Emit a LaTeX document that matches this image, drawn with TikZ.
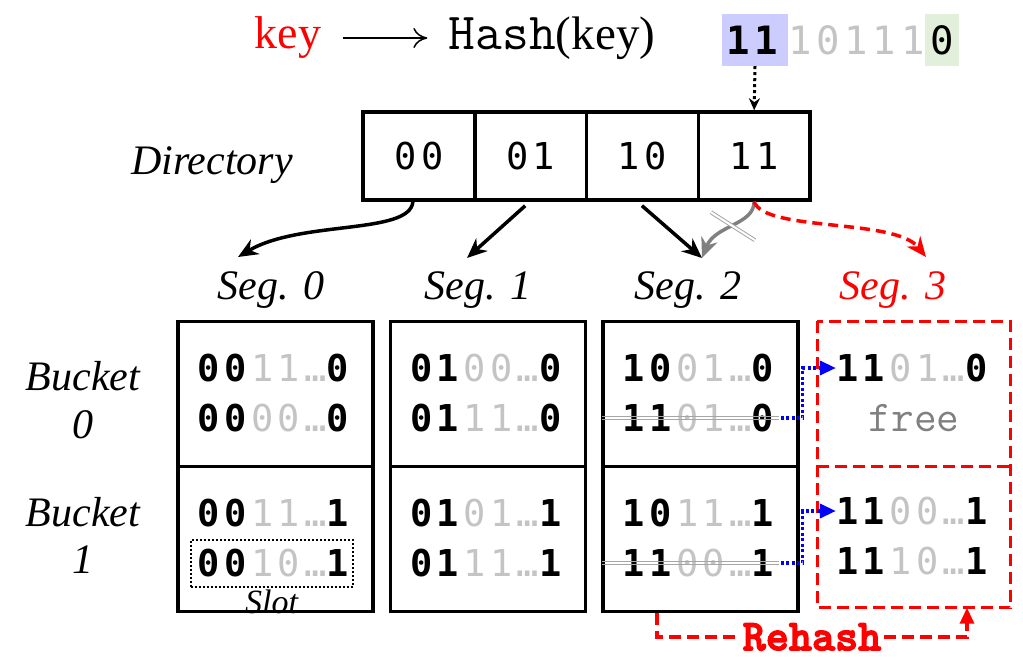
\documentclass[tikz,border=0pt]{standalone}
\usepackage{fontspec}
\usetikzlibrary{arrows.meta,positioning}
\setmainfont{Liberation Serif}
\newfontfamily\bitfont[LetterSpace=12]{DejaVu Sans Mono}
\newfontfamily\boldtt[Extension=.otf,FakeBold=3]{lmmonolt10-bold}
\definecolor{hiblue}{HTML}{CCCCFF}
\definecolor{logreen}{HTML}{E2EFDA}
\definecolor{bitgray}{HTML}{C4C4C4}
\definecolor{segred}{HTML}{FF0000}
\newcommand{\bitsize}{\fontsize{37}{39}\selectfont}
\newcommand{\bits}[3]{{\bitfont\textbf{#1}\textcolor{bitgray}{#2…}\textbf{#3}}}

\begin{document}
\begin{tikzpicture}[x=1pt,y=-1pt,
    box/.style={draw,line width=3.5pt,inner sep=0pt},
    reddash/.style={segred,line width=3.5pt,dash pattern=on 12pt off 6pt},
    ital/.style={font=\fontsize{42}{44}\selectfont\itshape,inner sep=0pt},
    entry/.style={font=\bitsize,inner sep=0pt},
    link/.style={line width=3.5pt,-{Stealth[length=20pt,width=17pt]}},
    move/.style={blue,line width=3.5pt,dash pattern=on 3pt off 2.5pt,-{Triangle[length=16pt,width=14pt]}},
    strike/.style={gray!70,line width=1pt}]
  \useasboundingbox (0,0) rectangle (1023,659);

  % hash of the key
  \node[text=segred,font=\fontsize{46}{48}\selectfont] (key) at (288,38) {key};
  \node[font=\fontsize{47}{48}\selectfont] (hash) at (552,38) {{\ttfamily\fontsize{52}{54}\selectfont Hash}(key)};
  \draw[line width=1.5pt,shorten <=18pt,shorten >=18pt,-{To[length=14pt,width=20pt]}] (key) -- (hash);
  \node[fill=hiblue,minimum width=66pt,minimum height=52pt,inner sep=0pt,
        font=\fontsize{39}{40}\selectfont] (hi) at (755,40) {\bitfont\textbf{11}};
  \node[right=0pt of hi,inner sep=0pt,text=bitgray,
        font=\fontsize{39}{40}\selectfont] (mid) {\bitfont 10111};
  \node[right=0pt of mid,fill=logreen,minimum width=34pt,minimum height=52pt,inner sep=0pt,
        font=\fontsize{39}{40}\selectfont] (lo) {\bitfont 0};

  % directory
  \node[ital] (dir) at (212,165) {Directory};
  \foreach \i/\lab in {0/00,1/01,2/10,3/11}
    \node[box,minimum width=111.75pt,minimum height=88pt,font=\bitsize]
      (d\lab) at (418.9+111.75*\i,156) {\bitfont\lab};
  \draw[line width=3pt,dash pattern=on 3pt off 3pt,-{Stealth[length=12pt,width=11pt]}]
    (hi.south) -- (d11.north);

  % segments
  \foreach \s/\x in {0/271,1/478,2/688}
    \node[ital] (s\s) at (\x,290) {Seg. \s};
  \node[ital,text=segred] (s3) at (893,290) {Seg. 3};
  \foreach \s/\x in {0/275.5,1/488,2/700.5} {
    \node[box,minimum width=195pt,minimum height=145pt] (b\s0) at (\x,394) {};
    \node[box,minimum width=195pt,minimum height=145pt] (b\s1) at (\x,539) {};
  }
  \node[inner sep=0pt,minimum width=193pt,minimum height=145pt] (b30) at (914,394) {};
  \node[inner sep=0pt,minimum width=193pt,minimum height=141pt] (b31) at (914,537) {};
  \draw[reddash] (b30.north west) rectangle (b31.south east);
  \draw[reddash] (b30.south west) -- (b30.south east);

  \node[ital] (bk0) at (83,376) {Bucket};
  \node[ital] (n0) at (83,425) {0};
  \node[ital] (bk1) at (83,512) {Bucket};
  \node[ital] (n1) at (83,560) {1};

  % slots
  \foreach \s/\b/\r/\p/\q/\z in {0/0/1/00/11/0, 0/0/2/00/00/0, 0/1/1/00/11/1, 0/1/2/00/10/1,
      1/0/1/01/00/0, 1/0/2/01/11/0, 1/1/1/01/01/1, 1/1/2/01/11/1,
      2/0/1/10/01/0, 2/0/2/11/01/0, 2/1/1/10/11/1, 2/1/2/11/00/1,
      3/0/1/11/01/0, 3/1/1/11/00/1, 3/1/2/11/10/1}
    \node[entry] (e\s\b\r) at ([yshift={76-50*\r}]b\s\b.center) {\bits{\p}{\q}{\z}};
  \node[entry,text=gray,font=\fontsize{44}{46}\selectfont\ttfamily] (e302)
    at ([yshift=-24]b30.center) {free};

  \node[draw,line width=2pt,dash pattern=on 2pt off 2pt,minimum width=162pt,
        minimum height=47pt] (slot) at ([xshift=-4]e012) {};
  \node[font=\fontsize{34}{36}\selectfont\itshape,inner sep=0pt] (slotlab)
    at ([yshift=-14]slot.south) {Slot};

  % directory pointers
  \coordinate (t0) at (238,257);
  \coordinate (t1) at (467,258);
  \coordinate (t2) at (702,258);
  \coordinate (t3) at (926,257);
  \draw[link] ([xshift=-6]d00.south) .. controls (410,235) and (300,220) .. (t0);
  \draw[link,shorten <=6pt] ([xshift=-1]d01.south) -- (t1);
  \draw[link,shorten <=6pt] ([xshift=-5]d10.south) -- (t2);
  \draw[link,gray] (d11.south) .. controls (754,225) and (715,225) .. coordinate[pos=0.5] (cut) (t2);
  \draw[gray!70,line width=1pt,double=white,double distance=2pt]
    ([shift={(-22,-14)}]cut) -- ([shift={(22,14)}]cut);
  \draw[link,segred,dash pattern=on 10pt off 6pt] (d11.south) .. controls (765,232) and (895,218) .. (t3);

  % split of segment 2
  \foreach \b in {0,1} {
    \draw[strike] ([xshift=-20,yshift=1.5]e2\b2.west) -- ([yshift=1.5]e2\b2.east);
    \draw[strike] ([xshift=-20,yshift=-1.5]e2\b2.west) -- ([yshift=-1.5]e2\b2.east);
    \draw[move] ([xshift=2]e2\b2.east) -- ++(22,0) |- (e3\b1.west);
  }

  \node[text=segred,font=\fontsize{44}{46}\selectfont\boldtt,inner sep=2pt]
    (rehash) at (812,637) {Rehash};
  \draw[reddash] ([xshift=-43.5]b21.south) |- (rehash.west);
  \draw[reddash,-{Triangle[length=16pt,width=14pt]}]
    (rehash.east) -| ([xshift=53]b31.south);
\end{tikzpicture}
\end{document}
